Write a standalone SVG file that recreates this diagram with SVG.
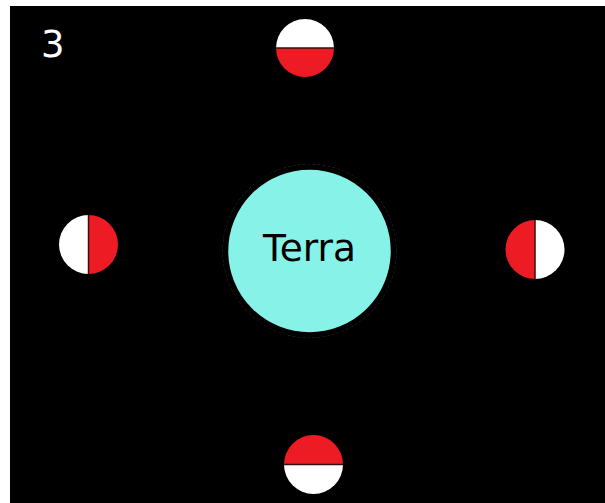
<svg xmlns="http://www.w3.org/2000/svg" width="605" height="503" viewBox="0 0 605 503">
  <style>
    .lit { fill: #ffffff; }
    .dark { fill: #ed1c24; }
    .term { stroke: #3a0a0c; stroke-width: 1.5; }
    text { font-family: "DejaVu Sans", "Liberation Sans", sans-serif; }
  </style>
  <rect x="0" y="0" width="605" height="503" fill="#ffffff"/>
  <rect x="10" y="6" width="595" height="497" fill="#000000"/>
  <text x="41" y="57" font-size="37" fill="#ffffff">3</text>

  <g id="earth">
    <circle cx="309.5" cy="251" r="86.5" fill="none" stroke="#555" stroke-width="0.8" stroke-dasharray="3 2"/>
    <circle cx="309.5" cy="251" r="84" fill="#87f2e8" stroke="#000" stroke-width="5.5"/>
    <text x="309.5" y="261" font-size="37.5" text-anchor="middle" fill="#000">Terra</text>
  </g>

  <!-- moon phases around the earth -->
  <g id="moon-top">
    <path class="lit" d="M276 48 A29 29 0 0 1 334 48 Z"/>
    <path class="dark" d="M276 48 A29 29 0 0 0 334 48 Z"/>
    <line class="term" x1="276" y1="48" x2="334" y2="48"/>
  </g>
  <g id="moon-left">
    <path class="lit" d="M88.5 215 A29.5 29.5 0 0 0 88.5 274 Z"/>
    <path class="dark" d="M88.5 215 A29.5 29.5 0 0 1 88.5 274 Z"/>
    <line class="term" x1="88.5" y1="215" x2="88.5" y2="274"/>
  </g>
  <g id="moon-right">
    <path class="dark" d="M535 220 A29.5 29.5 0 0 0 535 279 Z"/>
    <path class="lit" d="M535 220 A29.5 29.5 0 0 1 535 279 Z"/>
    <line class="term" x1="535" y1="220" x2="535" y2="279"/>
  </g>
  <g id="moon-bottom">
    <path class="dark" d="M284 464.5 A29.5 29.5 0 0 1 343 464.5 Z"/>
    <path class="lit" d="M284 464.5 A29.5 29.5 0 0 0 343 464.5 Z"/>
    <line class="term" x1="284" y1="464.5" x2="343" y2="464.5"/>
  </g>
  <g id="connectors"/>
</svg>
